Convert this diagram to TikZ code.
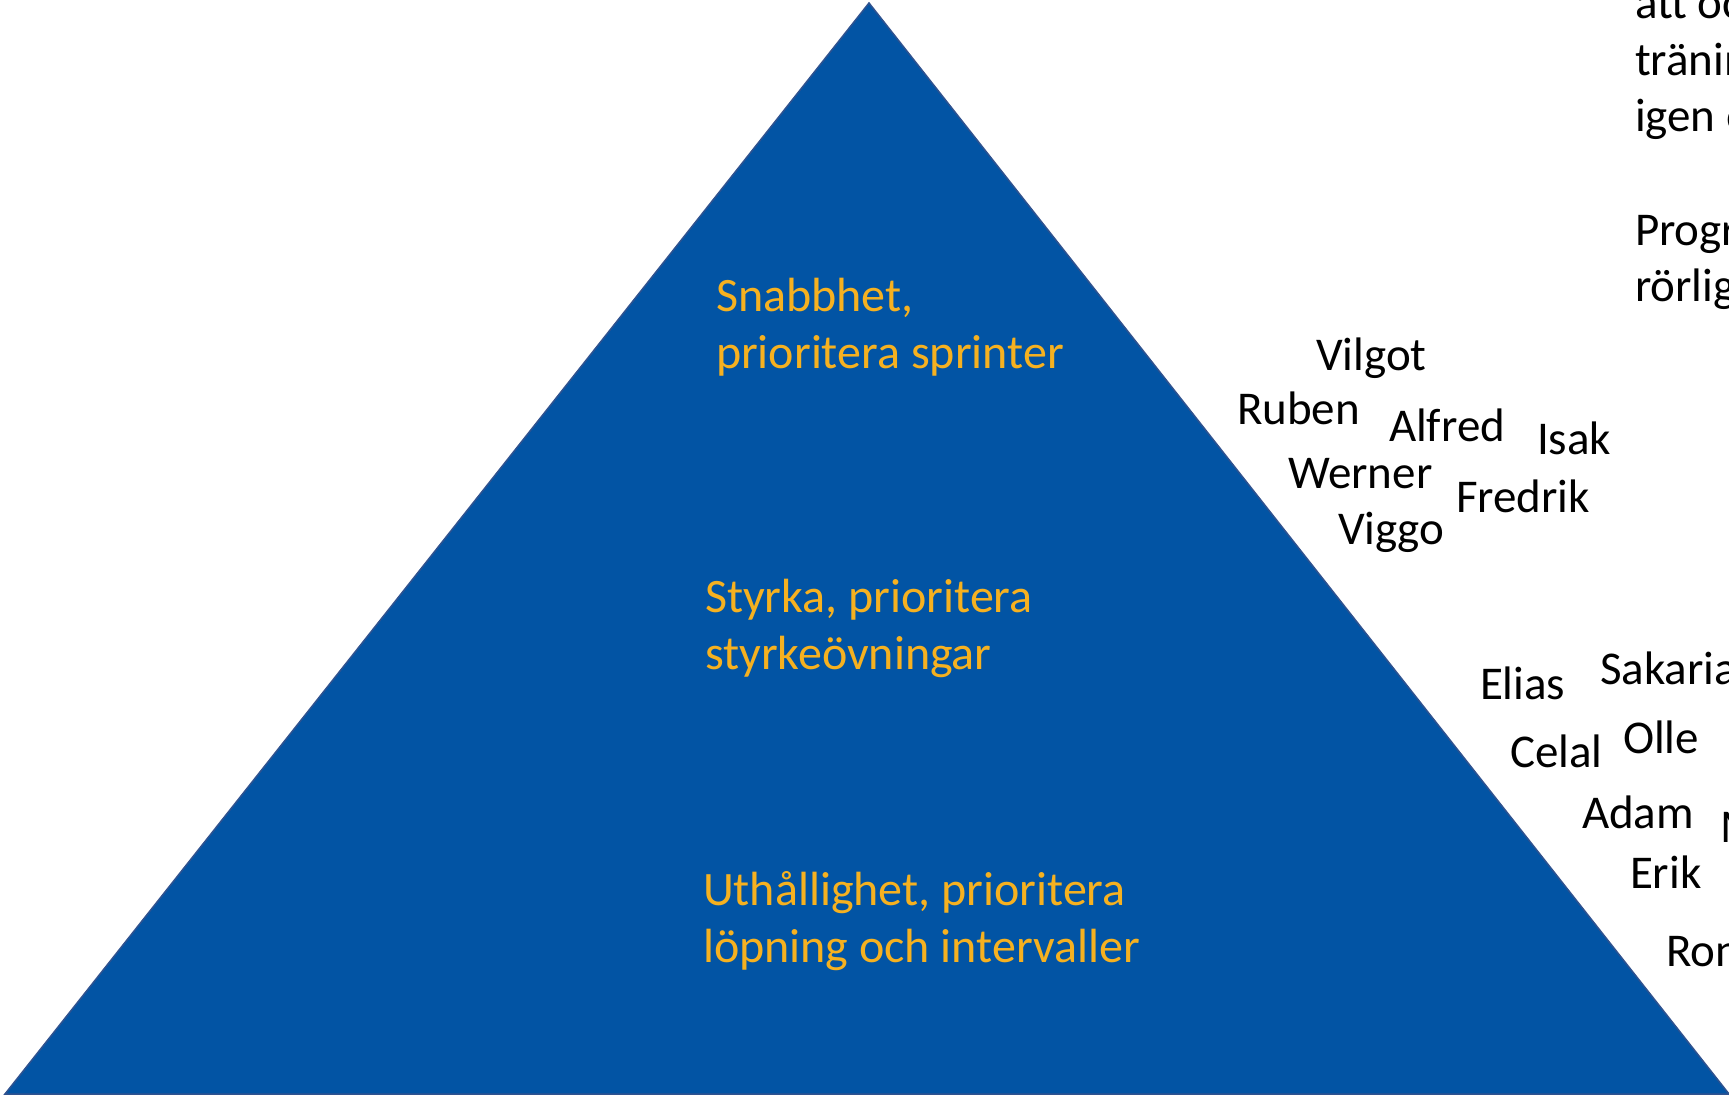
\documentclass[tikz,border=0pt]{standalone}
\usepackage{fontspec}
\setmainfont{Carlito}
\usepackage{tikz}

\tikzset{
  tiertext/.style={text=goldColor,anchor=base west,inner sep=0pt,outer sep=0pt,align=left,
    font=\fontsize{48}{57}\selectfont},
  kid/.style={text=black,anchor=base west,inner sep=0pt,outer sep=0pt,
    font=\fontsize{47}{56.5}\selectfont},
  notetext/.style={kid,align=left}
}

\begin{document}
\begin{tikzpicture}[x=1pt,y=1pt]
\definecolor{fillColor}{RGB}{2,84,164}
\definecolor{drawColor}{RGB}{47,82,143}
\definecolor{goldColor}{RGB}{246,177,32}
\path[use as bounding box,fill=white] (0,0) rectangle (1729,1096);
\begin{scope}
\path[clip] (0,0) rectangle (1729,1096);

% pyramid
\coordinate (bl) at (5,2);
\coordinate (br) at (1729,2);
\coordinate (top) at (869,1093);
\path[fill=fillColor,draw=drawColor,line width=1.5pt,line join=miter] (bl) -- (br) -- (top) -- cycle;

% levels (anchored at the last line)
\node[tiertext] (speed) at (716,727) {Snabbhet,\\prioritera sprinter};
\node[tiertext] (strength) at (705,426) {Styrka, prioritera\\styrkeövningar};
\node[tiertext] (stamina) at (703,134) {Uthållighet, prioritera\\löpning och intervaller};

% names
\node[kid] (vilgot) at (1316,725) {Vilgot};
\node[kid] (ruben) at (1237,671) {Ruben};
\node[kid] (alfred) at (1389,654) {Alfred};
\node[kid] (isak) at (1537,641) {Isak};
\node[kid] (werner) at (1288,607) {Werner};
\node[kid] (fredrik) at (1456,583) {Fredrik};
\node[kid] (viggo) at (1338,551) {Viggo};

\node[kid] (elias) at (1480,396) {Elias};
\node[kid] (sakaria) at (1600,411) {Sakaria};
\node[kid] (celal) at (1510,329) {Celal};
\node[kid] (olle) at (1623,343) {Olle};
\node[kid] (adam) at (1582,268) {Adam};
\node[kid] (mname) at (1720,254) {M};
\node[kid] (erik) at (1630,208) {Erik};
\node[kid] (ron) at (1666,130) {Ron};

% notes on the right
\node[notetext] (noteA) at (1635,964) {att oc\\tränin\\igen o};
\node[notetext] (noteB) at (1635,794) {Progr\\rörlig};
\end{scope}
\end{tikzpicture}
\end{document}
